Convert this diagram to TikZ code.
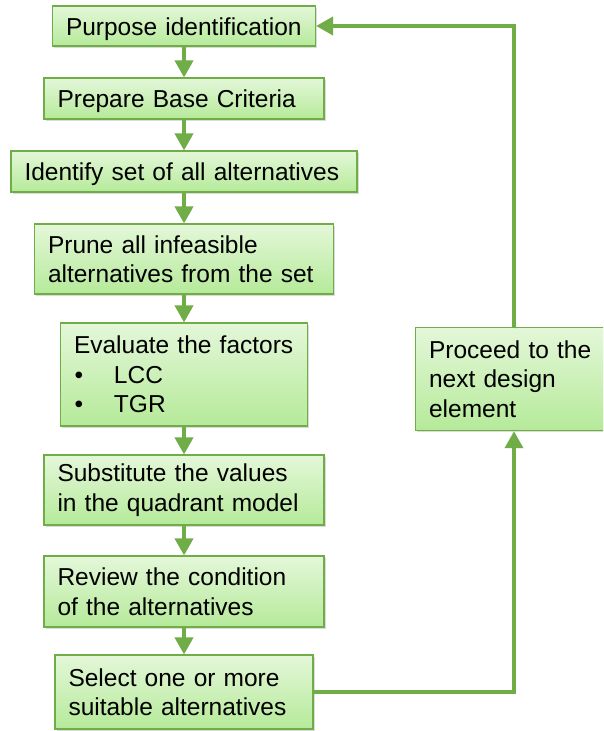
\documentclass[tikz,border=0pt]{standalone}
\usepackage{fontspec}
\setmainfont{Liberation Sans}
\usetikzlibrary{arrows.meta,shadows}
\definecolor{flowline}{RGB}{112,173,71}
\definecolor{boxtop}{RGB}{228,247,217}
\definecolor{boxbottom}{RGB}{181,234,153}
\tikzset{
  stepbox/.style n args={2}{draw=flowline, line width=1.2pt,
    top color=boxtop, bottom color=boxbottom,
    drop shadow={opacity=0.28, shadow xshift=1.6pt, shadow yshift=-1.8pt},
    minimum width=#1pt, text width=#1pt-27pt, minimum height=#2pt,
    inner xsep=13.5pt, inner ysep=0pt, align=left,
    font=\fontsize{24.5}{29.5}\selectfont, text=black},
  oneline/.style={text height=23.5pt, text depth=5pt},
  conn/.style={draw=flowline, line width=3.8pt,
    -{Triangle[width=18pt,length=17pt]},
    preaction={draw=black!60, opacity=0.18,
      transform canvas={shift={(1.2pt,-1.5pt)}}}},
}
\newcommand{\bulletitem}[1]{\makebox[40pt][l]{\hspace*{0.5pt}•}#1}
\begin{document}
\begin{tikzpicture}[x=1pt,y=-1pt]
  \clip (0,0) rectangle (603,731);
  \fill[white] (0,0) rectangle (603,731);

  % main column of steps
  \node[stepbox={263}{40}, oneline] (b1) at (184,26) {Purpose identification};
  \node[stepbox={280}{41}, oneline] (b2) at (184,98.5) {Prepare Base Criteria};
  \node[stepbox={346}{41}, oneline] (b3) at (184,171.5) {Identify set of all alternatives};
  \node[stepbox={299}{70}] (b4) at (184,259) {Prune all infeasible\\alternatives from the set};
  \node[stepbox={247}{103}] (b5) at (184,374.5) {Evaluate the factors\\\bulletitem{LCC}\\\bulletitem{TGR}};
  \node[stepbox={280}{70}] (b6) at (184,490) {Substitute the values\\in the quadrant model};
  \node[stepbox={280}{71}] (b7) at (184,591.5) {Review the condition\\of the alternatives};
  \node[stepbox={258}{74}] (b8) at (184,692) {Select one or more\\suitable alternatives};

  % side step, running past the right edge
  \node[stepbox={210}{103}, anchor=north west] (b9) at (415,327) {Proceed to the\\next design\\element};

  % route of the feedback loop
  \coordinate (fb) at (514,0);

  % downward arrows
  \draw[conn] (b1.south) -- (b2.north);
  \draw[conn] (b2.south) -- (b3.north);
  \draw[conn] (b3.south) -- (b4.north);
  \draw[conn] (b4.south) -- (b5.north);
  \draw[conn] (b5.south) -- (b6.north);
  \draw[conn] (b6.south) -- (b7.north);
  \draw[conn] (b7.south) -- (b8.north);

  % feedback loop
  \draw[conn] (b8.east) -- (b8.east -| fb) -- (b9.south -| fb);
  \draw[conn] (b9.north -| fb) -- (fb |- b1.east) -- (b1.east);
\end{tikzpicture}
\end{document}
